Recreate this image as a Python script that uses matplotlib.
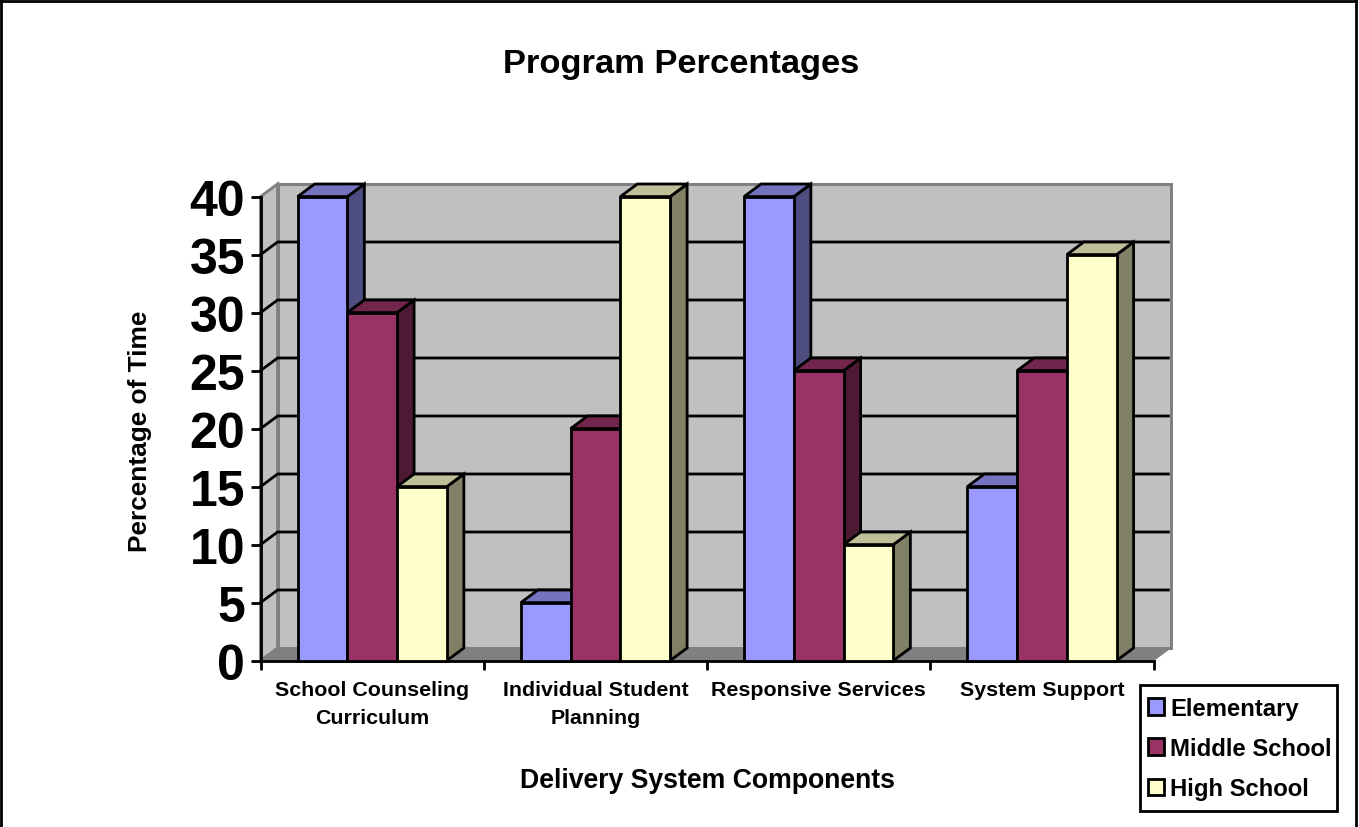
import matplotlib
matplotlib.use("Agg")
import matplotlib.pyplot as plt
from matplotlib.lines import Line2D
from matplotlib.patches import Patch, Rectangle

plt.rcParams['font.family'] = ['Liberation Sans', 'DejaVu Sans']
plt.rcParams['font.weight'] = 'bold'

categories = ["School Counseling\nCurriculum", "Individual Student\nPlanning",
              "Responsive Services", "System Support"]
elementary = [40, 5, 40, 15]
middle_school = [30, 20, 25, 25]
high_school = [15, 40, 10, 35]
series_names = ["Elementary", "Middle School", "High School"]
y_ticks = [0, 5, 10, 15, 20, 25, 30, 35, 40]

W, H = 1359, 828
fig = plt.figure(figsize=(W / 100, H / 100), dpi=100, facecolor='white')
L, R, T, B = 260.6, 1153.6, 197.6, 661.6
ax = fig.add_axes([L / W, 1 - B / H, (R - L) / W, (B - T) / H])
ax.set_xlim(0, 4)
ax.set_ylim(0, 40)
ax.patch.set_visible(False)

# depth of the pseudo-3D box in data units
DX = 17 / ((R - L) / 4)
DY = 12.6 / ((B - T) / 40)
PX = 0.72  # points per pixel
LW = 2.8 * PX


def poly(xs, ys, color, z, edge='black', lw=LW):
    ax.fill(xs, ys, facecolor=color, edgecolor=edge, linewidth=lw, clip_on=False,
            zorder=z, joinstyle='miter')


ymax = y_ticks[-1]
# back wall, side wall, floor
poly([DX, 4 + DX, 4 + DX, DX], [DY, DY, ymax + DY, ymax + DY], '#C0C0C0', 1, '#808080', 3 * PX)
poly([0, DX, DX, 0], [0, DY, ymax + DY, ymax], '#C0C0C0', 1, '#808080', 3 * PX)
poly([0, 4, 4 + DX, DX], [0, 0, DY, DY], '#808080', 1, '#808080', 1 * PX)

# gridlines on the walls
for v in y_ticks[1:-1]:
    ax.plot([0, DX, 4 + DX - 0.01], [v, v + DY, v + DY], color='black', lw=LW,
            clip_on=False, zorder=2, solid_joinstyle='miter')

# bars
series = [elementary, middle_school, high_school]
fronts = ['#9999FF', '#993366', '#FFFFCC']
tops = ['#7373BF', '#73264D', '#BFBF99']
sides = ['#4D4D80', '#4D1A33', '#808066']
bar_w = (1 - 2 * 37 / 223.25) / 3
start = 37 / 223.25
z = 5
for c in range(len(categories)):
    for s, vals in enumerate(series):
        v = vals[c]
        x0 = c + start + s * bar_w
        x1 = x0 + bar_w
        poly([x1, x1 + DX, x1 + DX, x1], [0, DY, v + DY, v], sides[s], z)
        poly([x0, x1, x1 + DX, x0 + DX], [v, v, v + DY, v + DY], tops[s], z + 0.1)
        ax.bar(x0, v, width=bar_w, align='edge', color=fronts[s], edgecolor='black',
               linewidth=LW, clip_on=False, zorder=z + 0.2)
        z += 1

# axes furniture
for name in ('top', 'right'):
    ax.spines[name].set_visible(False)
for name in ('left', 'bottom'):
    ax.spines[name].set_linewidth(LW)
    ax.spines[name].set_zorder(3)
ax.set_yticks(y_ticks)
ax.tick_params(axis='y', length=10 * PX, width=LW, pad=4, labelsize=36)
ax.set_xticks(range(5))
ax.set_xticklabels([])
ax.tick_params(axis='x', which='major', length=9 * PX, width=LW)
ax.set_xticks([i + 0.5 for i in range(4)], minor=True)
ax.set_xticklabels(categories, minor=True, fontsize=15.4, linespacing=1.6)
ax.tick_params(axis='x', which='minor', length=0, pad=14)
for t in ax.get_yticklabels():
    t.set_fontweight('bold')
for t in ax.get_xticklabels(minor=True):
    t.set_fontweight('bold')

ax.set_xlabel("Delivery System Components", fontsize=19.2, fontweight='bold')
ax.xaxis.set_label_coords(0.5, -(781 - B) / (B - T), transform=ax.transAxes)
ax.xaxis.label.set_va('center')
ax.set_ylabel("Percentage of Time", fontsize=18.9, fontweight='bold')
ax.yaxis.set_label_coords(-(L - 140) / (R - L), (B - 431.5) / (B - T), transform=ax.transAxes)
ax.yaxis.label.set_va('center')
fig.text(681 / W, 1 - 64 / H, "Program Percentages", ha='center', va='center',
         fontsize=24.8, fontweight='bold')

# legend: frame drawn as a box, entries placed inside it
fig.add_artist(Rectangle((1140 / W, 1 - 812 / H), 197 / W, 126 / H, transform=fig.transFigure,
                         facecolor='white', edgecolor='black', linewidth=LW, zorder=1))
handles = [Patch(facecolor=f, edgecolor='black', linewidth=LW) for f in fronts]
leg = fig.legend(handles, series_names, loc='center left',
                 bbox_to_anchor=(1148 / W, 1 - 749.5 / H), borderaxespad=0, borderpad=0,
                 fontsize=17.2, frameon=False, handlelength=0.67, handleheight=0.67,
                 handletextpad=0.27, labelspacing=0.72)
for t in leg.get_texts():
    t.set_fontweight('bold')

# chart frame
for xs, ys in (([1, 1], [0, 827]), ([1, 1356], [1.5, 1.5]), ([1356, 1356], [0, 827])):
    fig.add_artist(Line2D([x / W for x in xs], [1 - y / H for y in ys], color='black', lw=LW))

fig.savefig("out.png", dpi=100)
